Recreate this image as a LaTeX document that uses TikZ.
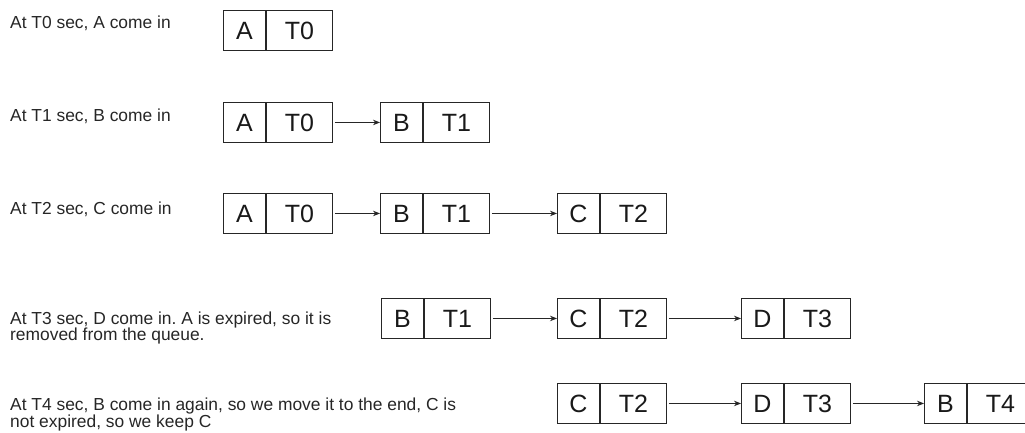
\documentclass[tikz,border=0pt]{standalone}
\usepackage{fontspec}
\setmainfont{Liberation Sans}
\usetikzlibrary{arrows.meta}
\frenchspacing
\begin{document}
\begin{tikzpicture}[x=1pt,y=-1pt,
  cell/.style={draw=black!85, line width=0.9pt, minimum height=40pt, inner sep=0pt,
    font=\fontsize{25}{25}\selectfont, text=black!90, anchor=north west},
  kcell/.style={cell, minimum width=42pt},
  tcell/.style={cell, minimum width=66pt},
  lbl/.style={anchor=west, align=left, font=\fontsize{17.4}{16.5}\selectfont, inner sep=0pt, text=black!85},
  link/.style={-{Stealth[length=7pt,width=5.5pt]}, line width=0.8pt, draw=black!85, shorten <=2pt}]
\useasboundingbox (0,0) rectangle (1025,432);

% Row 1
\node[lbl] (l1) at (10,23) {At T0 sec, A come in};
\node[kcell] (r1a) at (223,10) {A};
\node[tcell] (r1at) at (r1a.north east) {T0};

% Row 2
\node[lbl] (l2) at (10,116) {At T1 sec, B come in};
\node[kcell] (r2a) at (223,102) {A};
\node[tcell] (r2at) at (r2a.north east) {T0};
\node[kcell] (r2b) at (380,102) {B};
\node[tcell] (r2bt) at (r2b.north east) {T1};
\draw[link] (r2at.east) -- (r2b.west);

% Row 3
\node[lbl] (l3) at (10,209) {At T2 sec, C come in};
\node[kcell] (r3a) at (223,193) {A};
\node[tcell] (r3at) at (r3a.north east) {T0};
\node[kcell] (r3b) at (380,193) {B};
\node[tcell] (r3bt) at (r3b.north east) {T1};
\node[kcell] (r3c) at (557,193) {C};
\node[tcell] (r3ct) at (r3c.north east) {T2};
\draw[link] (r3at.east) -- (r3b.west);
\draw[link] (r3bt.east) -- (r3c.west);

% Row 4
\node[lbl] (l4) at (10,328) {At T3 sec, D come in. A is expired, so it is\\removed from the queue.};
\node[kcell] (r4b) at (381,298) {B};
\node[tcell] (r4bt) at (r4b.north east) {T1};
\node[kcell] (r4c) at (557,298) {C};
\node[tcell] (r4ct) at (r4c.north east) {T2};
\node[kcell] (r4d) at (741,298) {D};
\node[tcell] (r4dt) at (r4d.north east) {T3};
\draw[link] (r4bt.east) -- (r4c.west);
\draw[link] (r4ct.east) -- (r4d.west);

% Row 5
\node[lbl] (l5) at (10,414.5) {At T4 sec, B come in again, so we move it to the end, C is\\not expired, so we keep C};
\node[kcell] (r5c) at (557,383) {C};
\node[tcell] (r5ct) at (r5c.north east) {T2};
\node[kcell] (r5d) at (741,383) {D};
\node[tcell] (r5dt) at (r5d.north east) {T3};
\node[kcell] (r5b) at (924,383) {B};
\node[tcell] (r5bt) at (r5b.north east) {T4};
\draw[link] (r5ct.east) -- (r5d.west);
\draw[link] (r5dt.east) -- (r5b.west);
\end{tikzpicture}
\end{document}
